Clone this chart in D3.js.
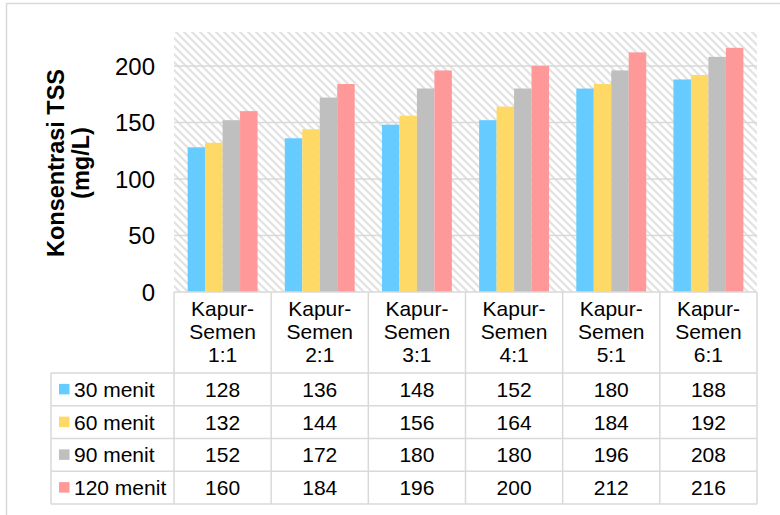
<!DOCTYPE html>
<html>
<head>
<meta charset="utf-8">
<script src="https://cdn.jsdelivr.net/npm/d3@7"></script>
<style>
  html, body { margin: 0; padding: 0; background: #fff; }
  svg { display: block; font-family: "Liberation Sans", Arial, sans-serif; }
</style>
</head>
<body>
<svg id="chart" width="780" height="515"></svg>
<script>
// Kategori campuran kapur-semen
const categories = ["Kapur-Semen 1:1", "Kapur-Semen 2:1", "Kapur-Semen 3:1",
                    "Kapur-Semen 4:1", "Kapur-Semen 5:1", "Kapur-Semen 6:1"];
// Waktu pengendapan
const seriesNames = ["30 menit", "60 menit", "90 menit", "120 menit"];
// Konsentrasi TSS (mg/L) per waktu
const menit30  = [128, 136, 148, 152, 180, 188];
const menit60  = [132, 144, 156, 164, 184, 192];
const menit90  = [152, 172, 180, 180, 196, 208];
const menit120 = [160, 184, 196, 200, 212, 216];
const seriesColors = ["#66CCFF", "#FFD966", "#BFBFBF", "#FF9999"];
const yTicks = [0, 50, 100, 150, 200];

const seriesValues = [menit30, menit60, menit90, menit120];

const svg = d3.select("#chart");
const gridColor = "#d9d9d9";

const plot = { left: 174, right: 757, top: 32, bottom: 292 };
const legendLeft = 51;
const headerBottom = 373;
const rowH = 32.75;

// outer chart frame
svg.append("rect")
  .attr("x", 6.5).attr("y", 3.5)
  .attr("width", 790).attr("height", 530)
  .attr("fill", "#fff").attr("stroke", gridColor).attr("stroke-width", 1.5);

// diagonal hatch fill for the plot area
const defs = svg.append("defs");
const pat = defs.append("pattern")
  .attr("id", "hatch")
  .attr("patternUnits", "userSpaceOnUse")
  .attr("width", 8).attr("height", 8);
pat.append("rect").attr("width", 8).attr("height", 8).attr("fill", "#fff");
pat.append("path")
  .attr("d", "M-2,-2 L10,10 M-2,6 L2,10 M6,-2 L10,2")
  .attr("stroke", "#e2e2e2").attr("stroke-width", 2.2);

const x = d3.scaleBand().domain(categories)
  .range([plot.left, plot.right]).paddingInner(0).paddingOuter(0);
const xs = d3.scaleBand().domain(seriesNames)
  .range([0, x.bandwidth()]).paddingInner(0).paddingOuter(0.78);
const y = d3.scaleLinear().domain([0, 230]).range([plot.bottom, plot.top]);

svg.append("rect")
  .attr("x", plot.left).attr("y", plot.top)
  .attr("width", plot.right - plot.left).attr("height", plot.bottom - plot.top)
  .attr("fill", "url(#hatch)");

// gridlines
svg.append("g")
  .selectAll("line")
  .data(yTicks.filter(d => d > 0))
  .join("line")
  .attr("x1", plot.left).attr("x2", plot.right)
  .attr("y1", d => y(d)).attr("y2", d => y(d))
  .attr("stroke", gridColor).attr("stroke-width", 1.5);

// y axis labels
const yAxis = d3.axisLeft(y).tickValues(yTicks).tickSize(0).tickPadding(0).tickFormat(d3.format("d"));
const ya = svg.append("g").attr("transform", `translate(${plot.left - 19},0)`).call(yAxis);
ya.select(".domain").remove();
ya.selectAll("text")
  .attr("font-family", "'Liberation Sans', Arial, sans-serif")
  .attr("font-size", 24).attr("fill", "#000").attr("dy", "0.35em");

// y title
const title = svg.append("text")
  .attr("transform", "translate(0,163) rotate(-90)")
  .attr("text-anchor", "middle")
  .attr("font-weight", "bold").attr("font-size", 23.5).attr("fill", "#000");
title.append("tspan").attr("x", 0).attr("y", 64).text("Konsentrasi TSS");
title.append("tspan").attr("x", 0).attr("y", 89).text("(mg/L)");

// bars
const groups = svg.append("g").selectAll("g")
  .data(categories)
  .join("g")
  .attr("transform", d => `translate(${x(d)},0)`);
groups.selectAll("rect")
  .data((c, ci) => seriesNames.map((s, si) => ({ s, si, v: seriesValues[si][ci] })))
  .join("rect")
  .attr("x", d => xs(d.s))
  .attr("width", xs.bandwidth())
  .attr("y", d => y(d.v))
  .attr("height", d => y(0) - y(d.v))
  .attr("fill", d => seriesColors[d.si]);

// data table
const tbl = svg.append("g").attr("stroke", gridColor).attr("stroke-width", 1.5);
// horizontal rules
tbl.append("line").attr("x1", plot.left).attr("x2", plot.right)
  .attr("y1", plot.bottom).attr("y2", plot.bottom);
for (let r = 0; r <= seriesNames.length; r++) {
  const yy = headerBottom + r * rowH;
  tbl.append("line").attr("x1", legendLeft).attr("x2", plot.right)
    .attr("y1", yy).attr("y2", yy);
}
const tableBottom = headerBottom + seriesNames.length * rowH;
// vertical rules
categories.forEach(c => {
  tbl.append("line").attr("x1", x(c)).attr("x2", x(c))
    .attr("y1", plot.bottom).attr("y2", tableBottom);
});
tbl.append("line").attr("x1", plot.right).attr("x2", plot.right)
  .attr("y1", plot.bottom).attr("y2", tableBottom);
tbl.append("line").attr("x1", legendLeft).attr("x2", legendLeft)
  .attr("y1", headerBottom).attr("y2", tableBottom);

// category headers
const hdr = svg.append("g").attr("font-size", 21).attr("fill", "#000").attr("text-anchor", "middle");
categories.forEach(c => {
  const sp = c.indexOf(" ");
  const lines = [c.slice(0, 6), c.slice(6, sp), c.slice(sp + 1)];
  const t = hdr.append("text");
  lines.forEach((ln, i) => {
    t.append("tspan").attr("x", x(c) + x.bandwidth() / 2).attr("y", 316 + i * 23).text(ln);
  });
});

// rows: legend key, name, values
const rows = svg.append("g").attr("font-size", 21).attr("fill", "#000");
seriesNames.forEach((s, si) => {
  const top = headerBottom + si * rowH;
  const mid = top + rowH / 2;
  rows.append("rect")
    .attr("x", 59).attr("y", mid - 5.5).attr("width", 10.5).attr("height", 10.5)
    .attr("fill", seriesColors[si]);
  rows.append("text").attr("x", 74).attr("y", mid + 7.5).text(s);
  categories.forEach((c, ci) => {
    rows.append("text")
      .attr("x", x(c) + x.bandwidth() / 2).attr("y", mid + 7.5)
      .attr("text-anchor", "middle")
      .text(seriesValues[si][ci]);
  });
});
</script>
</body>
</html>
